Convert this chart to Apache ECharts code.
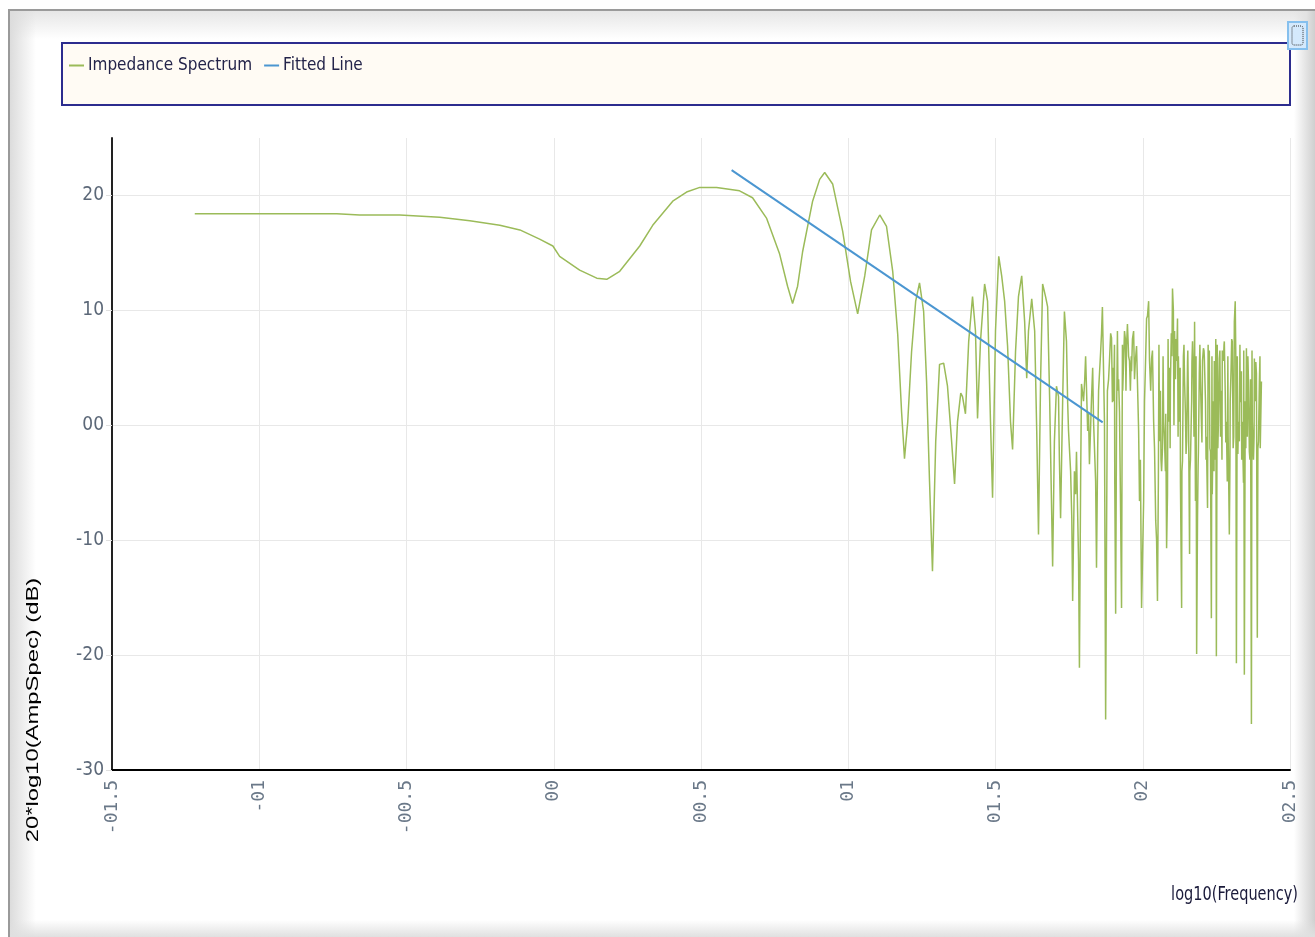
<!DOCTYPE html>
<html>
<head>
<meta charset="utf-8">
<script src="https://cdn.jsdelivr.net/npm/echarts@6/dist/echarts.min.js"></script>
<style>
html,body{margin:0;padding:0;width:1315px;height:937px;overflow:hidden;background:#ffffff;}
#frame{position:absolute;left:8px;top:9px;width:1307px;height:928px;box-sizing:border-box;border-top:2px solid #9a9a9a;border-left:2px solid #9a9a9a;
background:linear-gradient(to bottom,#e6e6e6 0px,#ffffff 28px,#ffffff 100%);}
#frameL{position:absolute;left:10px;top:11px;width:26px;height:926px;background:linear-gradient(to right,#dcdcdc,rgba(255,255,255,0));}
#frameR{position:absolute;left:1294px;top:11px;width:21px;height:926px;background:linear-gradient(to right,rgba(255,255,255,0),#e2e2e2 60%,#cfcfcf);}
#frameB{position:absolute;left:10px;top:920px;width:1305px;height:17px;background:linear-gradient(to bottom,rgba(255,255,255,0),#e0e0e0);}
#chart{position:absolute;left:0;top:0;width:1315px;height:937px;}
</style>
</head>
<body>
<div id="frame"></div><div id="frameL"></div><div id="frameR"></div><div id="frameB"></div>
<div id="chart"></div>
<script>
// ---- data ----
const seriesNames = ['Impedance Spectrum', 'Fitted Line'];
const xTickLabels = ['-01.5','-01','-00.5','00','00.5','01','01.5','02','02.5'];
const yTickLabels = ['-30','-20','-10','00','10','20'];
const xName = 'log10(Frequency)';
const yName = '20*log10(AmpSpec) (dB)';

// main trace points (log10 frequency, dB)
const impFreq = [
-1.219,-0.998,-0.737,-0.659,-0.523,-0.387,-0.285,-0.183,-0.115,-0.048,-0.003,0.020,0.088,0.146,0.180,0.224,0.292,0.336,0.404,0.451,
0.496,0.553,0.631,0.675,0.723,0.767,0.794,0.811,0.828,0.845,0.879,0.903,0.920,0.947,0.981,1.008,1.032,1.056,1.079,1.107,
1.130,1.151,1.168,1.181,1.191,1.202,1.215,1.229,1.242,1.256,1.266,1.276,1.286,1.297,1.310,1.324,1.337,1.351,1.361,1.371,
1.382,1.388,1.398,1.409,1.422,1.432,1.439,1.449,1.463,1.473,1.483,1.490,1.500,1.511,1.521,1.531,1.541,1.551,1.558,1.568,
1.578,1.589,1.599,1.606,1.612,1.623,1.633,1.640,1.646,1.653,1.660,1.670,1.677,1.684,1.694,1.700,1.707,1.714,1.721,1.728,
1.734,1.741,1.748,1.755,1.762,1.768,1.775,1.782,1.785,1.792,1.799,1.806,1.813,1.819,1.826,1.833,1.840,1.843,1.850,1.857,
1.863,1.870,1.874,1.880,1.887,1.894,1.901,1.908,1.911,1.914,1.921,1.928,1.935,1.938,1.945,1.948,1.955,1.962,1.969,1.975,
1.979,1.986,1.989,1.996,2.003,2.006,2.013,2.020,2.023,2.030,2.037,2.044,2.050,2.057,2.064,2.071,2.074,2.081,2.088,2.094,
2.101,2.108,2.115,2.118,2.125,2.132,2.135,2.142,2.149,2.155,2.159,2.166,2.169,2.176,2.179,2.183,2.189,2.196,2.203,2.206,
2.213,2.220,2.223,2.230,2.233,2.240,2.243,2.250,2.257,2.260,2.267,2.274,2.277,2.284,2.287,2.294,2.297,2.304,2.311,2.314,
2.318,2.325,2.328,2.335,2.338,2.345,2.348,2.352,2.359,2.362,2.369,2.372,2.379,2.382,2.389,2.393,2.396,2.403
];
const impAmp = [
18.4,18.4,18.4,18.3,18.3,18.1,17.8,17.4,17.0,16.2,15.6,14.7,13.5,12.8,12.7,13.4,15.6,17.4,19.5,20.3,
20.7,20.7,20.4,19.8,18.0,14.9,12.1,10.6,12.1,15.1,19.5,21.4,22.0,21.0,16.9,12.5,9.7,13.0,17.0,18.3,
17.3,13.4,7.9,1.2,-2.9,0.3,6.4,10.8,12.4,9.9,3.8,-4.9,-12.7,-1.4,5.3,5.4,3.4,-1.4,-5.1,0.3,
2.8,2.5,1.0,7.3,11.2,8.2,0.6,7.3,12.3,10.8,0.3,-6.3,8.2,14.7,13.0,10.8,6.9,0.3,-2.1,6.4,
11.2,13.0,9.0,4.1,8.2,11.0,8.2,-0.5,-9.5,3.8,12.3,11.2,10.3,2.1,-12.3,-1.4,3.4,2.5,-8.1,2.1,
9.9,7.3,-0.5,-4.0,-15.3,-4.0,-2.3,-11.8,-21.1,3.6,2.1,6.0,-0.5,-3.4,2.3,0.3,-4.9,-12.4,3.0,6.4,
10.3,0.3,-25.6,3.0,5.6,7.6,2.1,-16.4,0.3,8.2,1.2,-15.9,5.6,8.2,6.9,8.8,5.6,4.7,8.2,5.6,
6.9,-0.5,-6.6,-15.9,-6.6,2.1,9.3,10.8,5.6,5.8,0.3,-8.3,-15.3,-1.4,-4.0,0.3,-1.4,-10.7,0.3,3.8,
11.9,8.2,5.6,9.3,0.3,-15.9,-3.1,3.8,-1.4,2.1,-11.2,2.1,7.3,9.0,-6.6,-19.9,-2.3,3.8,5.6,6.7,
2.1,-7.2,3.8,-2.3,-16.8,2.1,5.6,-20.1,0.3,5.8,3.0,5.6,7.3,0.3,-4.9,-9.5,2.1,7.3,9.0,10.8,
-20.7,0.3,-1.4,4.7,0.3,-21.7,2.1,6.7,3.8,-2.3,-26.0,0.3,5.8,2.1,-18.5,-1.4,3.8,3.8
];
// extra detail points
const denseFreq = [
1.717,1.731,1.745,1.759,1.772,1.789,1.803,1.816,1.830,1.847,1.860,1.877,1.884,1.898,1.905,1.918,1.925,1.932,1.941,
1.952,1.958,1.965,1.972,1.982,1.992,2.009,2.016,2.027,2.033,2.040,2.047,2.053,2.060,2.067,2.077,2.084,2.091,2.097,2.104,
2.111,2.121,2.128,2.138,2.145,2.152,2.162,2.172,2.186,2.192,2.199,2.209,2.216,2.226,2.236,2.246,2.253,2.264,2.270,2.280,
2.290,2.300,2.307,2.321,2.331,2.342,2.355,2.366,2.376,2.386,2.399
];
const denseAmp = [
-3.0,6.0,2.0,-8.0,-6.0,-5.0,4.0,1.0,5.0,-2.0,8.0,-10.0,4.0,5.0,-5.0,4.0,-8.0,3.0,7.5,
6.0,3.0,7.5,4.0,7.0,-3.0,5.0,9.5,3.0,6.5,-2.0,-10.0,-5.0,3.0,-2.0,-4.0,-6.0,5.0,8.0,10.0,
4.0,6.0,-5.0,6.0,1.0,5.5,-3.0,4.0,-8.0,4.5,0.5,6.0,-1.0,6.5,-6.0,-3.0,7.0,-1.0,6.5,3.0,
-1.0,5.0,-2.0,6.0,2.0,-5.0,-1.0,4.0,-3.0,4.5,-2.0
];
const bandFreq = [
1.891,1.897,1.904,1.916,1.931,1.943,1.950,1.961,
2.055,2.062,2.069,2.078,2.086,2.093,2.099,2.106,2.113,2.120,2.127,2.133,2.140,2.147,2.153,2.160,2.167,2.174,2.181,2.188,
2.194,2.201,2.208,2.215,2.222,2.228,2.235,2.242,2.248,2.255,2.262,2.269,2.276,2.282,2.289,2.296,2.302,2.309,2.316,2.323,
2.330,2.336,2.343,2.350,2.357,2.364,2.371,2.378,2.384,2.391,2.398
];
const bandAmp = [
8.0,2.0,7.0,3.0,7.0,3.0,7.5,6.0,
7.0,-3.0,6.0,1.0,7.5,-2.0,6.0,0.0,7.5,-1.0,5.0,-4.0,7.0,-2.5,6.5,-4.0,5.5,-1.0,6.0,-3.5,
7.0,-1.5,6.5,-3.0,7.0,-2.0,6.0,-4.0,7.5,-2.0,6.5,-3.0,7.0,-1.5,6.0,-3.5,7.5,-1.0,6.0,-2.5,
7.0,-3.0,6.5,-2.0,6.0,-3.0,6.5,-1.0,5.5,-2.0,6.0
];
const fitFreq = [0.604, 1.864];
const fitAmp = [22.2, 0.25];

// ---- chart ----
const xMin = -1.5, xMax = 2.5, xStep = 0.5;
const yMin = -30, yMax = 25, yStep = 10;
const narrow = '"Liberation Sans Narrow","DejaVu Sans Condensed","Arial Narrow",sans-serif';

const impData = impFreq.map((f,i) => [f, impAmp[i]])
  .concat(denseFreq.map((f,i) => [f, denseAmp[i]]))
  .concat(bandFreq.map((f,i) => [f, bandAmp[i]]))
  .sort((a,b) => a[0]-b[0]);

const chart = echarts.init(document.getElementById('chart'), null, {renderer:'canvas'});
chart.setOption({
  backgroundColor: 'transparent',
  animation: false,
  grid: {left:112, right:25, top:138, bottom:167, containLabel:false},
  legend: {
    data: seriesNames,
    left: 64, top: 52,
    icon: 'rect', itemWidth: 15, itemHeight: 2, itemGap: 12,
    textStyle: {fontFamily: narrow, fontSize: 17, color: '#24244a', padding:[0,0,0,-1]}
  },
  graphic: [
    {type:'rect', shape:{x:62, y:43, width:1228, height:62}, style:{fill:'#fffbf4', stroke:'#2c2c8e', lineWidth:2}, z:-1},
    {type:'rect', shape:{x:1288, y:22, width:19, height:27}, style:{fill:'#d4e9fc', stroke:'#86c0ee', lineWidth:2}},
    {type:'rect', shape:{x:1292, y:26, width:11, height:19, r:2}, style:{fill:'none', stroke:'#333', lineWidth:1, lineDash:[1,1]}},
    {type:'text', x:33, y:710, rotation:Math.PI/2, scaleX:1.4,
      style:{text:yName, fill:'#000', font:'17px "Liberation Sans",Arial,sans-serif', textAlign:'center', textVerticalAlign:'middle'}},
    {type:'text', x:1298, y:895, scaleX:0.85,
      style:{text:xName, fill:'#1a1a3a', font:'19px '+narrow, textAlign:'right', textVerticalAlign:'middle'}}
  ],
  xAxis: {
    type:'value', min:xMin, max:xMax, interval:xStep,
    axisLine:{show:true, onZero:false, lineStyle:{color:'#000', width:2}},
    axisTick:{show:false},
    splitLine:{show:true, lineStyle:{color:'#e8e8e8', width:1}},
    axisLabel:{rotate:90, margin:10, color:'#6a7888', fontFamily:'"DejaVu Sans Mono","Liberation Mono",monospace', fontSize:18,
      formatter: v => xTickLabels[Math.round((v - xMin)/xStep)] ?? ''}
  },
  yAxis: {
    type:'value', min:yMin, max:yMax, interval:yStep,
    axisLine:{show:true, onZero:false, lineStyle:{color:'#222', width:2}},
    axisTick:{show:true, length:6, lineStyle:{color:'#e0e0e0'}},
    splitLine:{show:true, showMaxLine:false, lineStyle:{color:'#e8e8e8', width:1}},
    axisLabel:{margin:8, color:'#5c6878', fontFamily:narrow, fontSize:19, showMaxLabel:false,
      formatter: v => yTickLabels[Math.round((v - yMin)/yStep)] ?? ''}
  },
  series: [
    {name:seriesNames[0], type:'line', showSymbol:false, symbol:'none', color:'#9bbb59',
      lineStyle:{color:'#9bbb59', width:1.5},
      data: impData},
    {name:seriesNames[1], type:'line', showSymbol:false, symbol:'none', color:'#4b96d1',
      lineStyle:{color:'#4b96d1', width:2},
      data: fitFreq.map((f,i) => [f, fitAmp[i]])}
  ]
});
</script>
</body>
</html>
